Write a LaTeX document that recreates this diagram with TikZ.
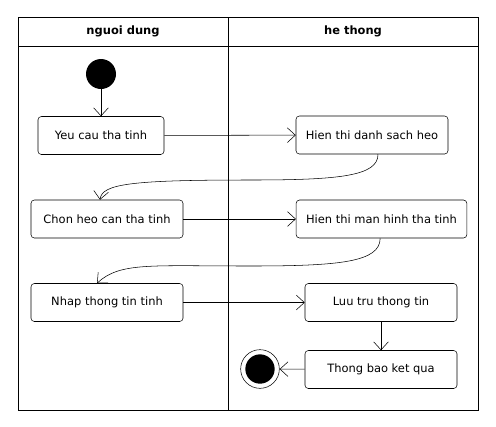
\documentclass[tikz,border=0pt]{standalone}
\usepackage{fontspec}
\setmainfont{DejaVu Sans}
\usetikzlibrary{arrows.meta}
\begin{document}
\begin{tikzpicture}[x=0.75pt, y=-0.75pt, font=\fontsize{8.6}{10}\selectfont,
  act/.style={draw, rounded corners=2.5pt, minimum height=28.5pt, minimum width=114pt, inner xsep=0pt},
  flow/.style={-{Straight Barb[length=6pt,width=11pt]}},
  lane/.style={font=\bfseries\fontsize{8.6}{10}\selectfont}]
 \useasboundingbox (0,0) rectangle (496,426);
 % swimlanes
 \draw[semithick] (18,17) rectangle (478,410);
 \draw[semithick] (18,46) -- (478,46);
 \draw[semithick] (228,17) -- (228,46);
 \draw (228,46) -- (228,410);
 \node[lane] (nguoidung) at (123,31) {nguoi dung};
 \node[lane] (hethong) at (353,31) {he thong};
 % activities
 \node[circle, fill=black, minimum size=22.5pt, inner sep=0pt] (start) at (101,74) {};
 \node[act, minimum width=94.5pt] (yeucau) at (101,135.5) {Yeu cau tha tinh};
 \node[act] (dsheo) at (372,135) {Hien thi danh sach heo};
 \node[act] (chonheo) at (107,219) {Chon heo can tha tinh};
 \node[act, minimum width=128pt] (manhinh) at (381.5,219) {Hien thi man hinh tha tinh};
 \node[act] (nhap) at (107,302.5) {Nhap thong tin tinh};
 \node[act] (luutru) at (381,302.5) {Luu tru thong tin};
 \node[act] (thongbao) at (381,369.5) {Thong bao ket qua};
 \node[circle, draw, minimum size=29pt, inner sep=0pt] (stop) at (260,369) {};
 \node[circle, fill=black, minimum size=22pt, inner sep=0pt] at (stop) {};
 % flows
 \draw[flow] (start) -- (yeucau);
 \draw[flow] (yeucau) -- (dsheo);
 \draw[flow] ([xshift=4.5pt]dsheo.south) .. controls (378,176) and (340,180) .. (250,180)
   .. controls (130,180) and (102,184) .. ([xshift=-5.25pt]chonheo.north);
 \draw[flow] (chonheo) -- (manhinh);
 \draw[flow] ([xshift=-1pt]manhinh.south) .. controls (380,262) and (340,266) .. (250,266)
   .. controls (150,266) and (120,262) .. ([xshift=-7.5pt]nhap.north);
 \draw[flow] (nhap) -- (luutru);
 \draw[flow] (luutru) -- (thongbao);
 \draw[flow] (thongbao) -- (stop);
\end{tikzpicture}
\end{document}
